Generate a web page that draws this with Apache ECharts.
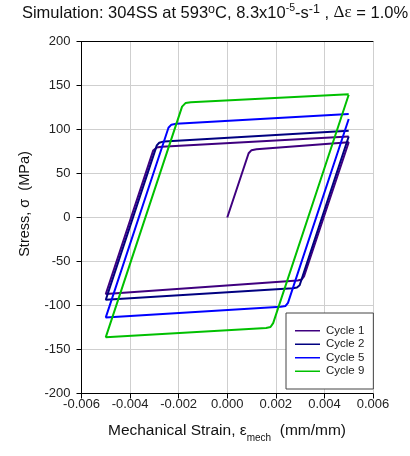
<!DOCTYPE html>
<html>
<head>
<meta charset="utf-8">
<script src="https://cdn.jsdelivr.net/npm/echarts@6/dist/echarts.min.js"></script>
<style>
  html, body { margin: 0; padding: 0; background: #fff; }
  #chart { width: 410px; height: 456px; }
</style>
</head>
<body>
<div id="chart"></div>
<script>
// hysteresis loops, [strain (mm/mm), stress (MPa)]
const cycleNames = ['Cycle 1', 'Cycle 2', 'Cycle 5', 'Cycle 9'];
const cycle1 = [
  [0, 0], [0.00088, 73], [0.00100, 76.5], [0.00120, 77.5], [0.005, 85.5],
  [0.00316, -67], [0.00306, -70.5], [0.0029, -71.5], [-0.005, -87],
  [-0.00305, 76], [-0.0029, 79.5], [-0.0027, 80.5], [0.005, 92]
];
const cycle2 = [
  [0.005, 92], [0.00298, -77], [0.00287, -79.5], [0.0027, -80.5], [-0.005, -93.5],
  [-0.0029, 82], [-0.0028, 85], [-0.0026, 86.5], [0.005, 98.5]
];
const cycle5 = [
  [0.005, 112], [0.0025, -97], [0.0024, -100.5], [0.0022, -101.5], [-0.005, -113.5],
  [-0.00242, 102], [-0.0023, 105.5], [-0.0021, 106.5], [0.005, 117.5]
];
const cycle9 = [
  [0.005, 139.5], [0.00189, -120], [0.00178, -124.5], [0.0016, -125.5], [-0.005, -136],
  [-0.00186, 126], [-0.00172, 130], [-0.0015, 131], [0.005, 140]
];

const font = "'Liberation Sans', Arial, sans-serif";
const chart = echarts.init(document.getElementById('chart'));

function loop(name, data, color) {
  return {
    name: name, type: 'line', data: data, symbol: 'none',
    lineStyle: { color: color, width: 2 }, itemStyle: { color: color }
  };
}

chart.setOption({
  animation: false,
  grid: { left: 81.5, right: 37, top: 41.5, bottom: 62.5 },
  xAxis: [{
    type: 'value', min: -0.006, max: 0.006, interval: 0.002,
    axisLine: { onZero: false, lineStyle: { color: '#000', width: 1 } },
    axisTick: { show: true, inside: false, length: 5, lineStyle: { color: '#000' } },
    axisLabel: { color: '#222', fontSize: 13, fontFamily: font, margin: 4,
      formatter: v => v.toFixed(3) },
    splitLine: { lineStyle: { color: '#cfcfcf', width: 1 } }
  }, {
    type: 'value', position: 'top', min: -0.006, max: 0.006,
    axisLine: { show: true, onZero: false, lineStyle: { color: '#000', width: 1 } },
    axisTick: { show: false }, axisLabel: { show: false }, splitLine: { show: false }
  }],
  yAxis: {
    type: 'value', min: -200, max: 200, interval: 50,
    axisLine: { show: true, onZero: false, lineStyle: { color: '#000', width: 1 } },
    axisTick: { show: true, inside: false, length: 5, lineStyle: { color: '#000' } },
    axisLabel: { color: '#222', fontSize: 13, fontFamily: font, margin: 11 },
    splitLine: { lineStyle: { color: '#cfcfcf', width: 1 } }
  },
  legend: {
    orient: 'vertical', left: 286, top: 313,
    data: cycleNames.map(n => ({ name: n, icon: 'rect' })),
    backgroundColor: '#fff', borderColor: '#444', borderWidth: 1, borderRadius: 0,
    padding: [11, 9, 11, 9], itemWidth: 25, itemHeight: 1.5, itemGap: 0,
    textStyle: { color: '#222', fontSize: 11.5, fontFamily: font, lineHeight: 13.5,
      padding: [0, 0, 0, 1] }
  },
  series: [
    loop(cycleNames[0], cycle1, '#3f007f'),
    loop(cycleNames[1], cycle2, '#000080'),
    loop(cycleNames[2], cycle5, '#0000ff'),
    loop(cycleNames[3], cycle9, '#00c000')
  ],
  graphic: [
    {
      type: 'text', x: 215, y: 13,
      style: {
        text: 'Simulation: 304SS at 593{sup|o}C, 8.3x10{ss|-5}-s{sup|-1} , {gr|Δε} = 1.0%',
        fontSize: 16.5, fontFamily: font, fill: '#111', align: 'center', verticalAlign: 'middle',
        rich: {
          sup: { fontSize: 12.5, fontFamily: font, fill: '#111', verticalAlign: 'top', lineHeight: 20 },
          ss: { fontSize: 10.5, fontFamily: font, fill: '#111', verticalAlign: 'top', lineHeight: 20 },
          gr: { fontSize: 17, fontFamily: "'Liberation Serif', serif", fill: '#111', lineHeight: 20 }
        }
      }
    },
    {
      type: 'text', x: 227, y: 431,
      style: {
        text: 'Mechanical Strain, ε{sub|mech}  (mm/mm)',
        fontSize: 15.5, fontFamily: font, fill: '#111', align: 'center', verticalAlign: 'middle',
        rich: {
          sub: { fontSize: 10, fontFamily: font, fill: '#111', verticalAlign: 'bottom', lineHeight: 24 }
        }
      }
    },
    {
      type: 'text', x: 25, y: 204, rotation: Math.PI / 2,
      style: {
        text: 'Stress, σ  (MPa)',
        fontSize: 14.5, fontFamily: font, fill: '#111', align: 'center', verticalAlign: 'middle'
      }
    }
  ]
});
</script>
</body>
</html>
